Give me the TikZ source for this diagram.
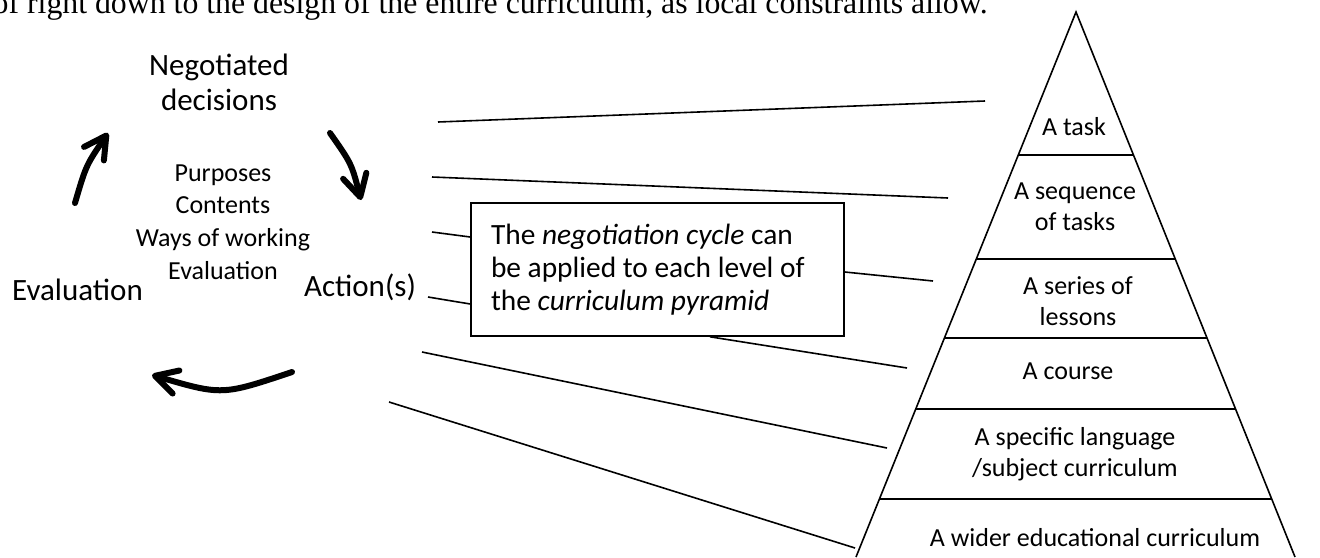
\documentclass[tikz,border=0pt]{standalone}
\usepackage{fontspec}
\setmainfont{Carlito}
\newfontfamily\leadserif{Liberation Serif}
\usetikzlibrary{arrows.meta,calc}

\tikzset{
  stage/.style={font=\fontsize{15.5}{17.5}\selectfont, align=center, inner sep=0pt},
  topic/.style={font=\fontsize{13}{16.25}\selectfont, align=center, inner sep=0pt},
  tier/.style={font=\fontsize{13}{15.5}\selectfont, align=center, inner sep=0pt},
  notebox/.style={draw, line width=0.8pt, font=\fontsize{14.7}{16.5}\selectfont, align=flush left,
    text width=166.5pt, inner xsep=10pt, inner ysep=0pt, minimum height=66.5pt},
  linkline/.style={line width=0.8pt},
  cyclearrow/.style={line width=3pt, line cap=round, -{Straight Barb[length=11pt,width=12pt,round]}},
}

\begin{document}
\begin{tikzpicture}[x=0.5pt, y=-0.5pt]
        \useasboundingbox (0,0) rectangle (1320,557);

        \node[anchor=base east, inner sep=0pt, font=\leadserif\fontsize{15.9}{18}\selectfont] (lead) at (988,13.5)
          {of right down to the design of the entire curriculum, as local constraints allow.};

        % the negotiation cycle
        \node[stage] (neg) at (219,82) {Negotiated\\decisions};
        \node[stage] (act) at (360,287.5) {Action(s)};
        \node[stage] (eval) at (77.5,290) {Evaluation};
        \node[topic] (what) at (223,222) {Purposes\\Contents\\Ways of working\\Evaluation};

        \coordinate (e2n-a) at (75,203);
        \coordinate (e2n-b) at (108,133);
        \coordinate (n2a-a) at (330,133);
        \coordinate (n2a-b) at (361,200);
        \coordinate (a2e-a) at (292,372);
        \coordinate (a2e-b) at (152,375);

        \draw[cyclearrow] (e2n-a) .. controls (86,165.4) .. (e2n-b); %
        \draw[cyclearrow] (n2a-a) .. controls (351.6,163.7) .. (n2a-b); %
        \draw[cyclearrow] (a2e-a) .. controls (222,395.5) .. (a2e-b); %

        % the curriculum pyramid
        \coordinate (apex) at (1076,12);
        \coordinate (bl) at (856,557);
        \coordinate (br) at (1295,557);
        \draw[linkline] (bl) -- (apex) -- (br);
        \foreach \t in {0.2624,0.4532,0.5982,0.7284,0.8936}
          \draw[linkline] ($(apex)!\t!(bl)$) -- ($(apex)!\t!(br)$);

        \node[tier] (t1) at (1074,127) {A task};
        \node[tier] (t2) at (1075,206.5) {A sequence\\of tasks};
        \node[tier] (t3) at (1078,301) {A series of\\lessons};
        \node[tier] (t4) at (1068,371.5) {A course};
        \node[tier] (t5) at (1075,454.5) {A specific language\\/subject curriculum};
        \node[tier] (t6) at (1095,538) {A wider educational curriculum};

        % the note and its links
        \node[notebox] (note) at (657.5,269.5)
          {The \emph{negotiation cycle} can\\be applied to each level of\\the \emph{curriculum pyramid}};

        \coordinate (k1) at (438,122);  \coordinate (k1e) at (985,101);
        \coordinate (k2) at (432,177);  \coordinate (k2e) at (948,198);
        \coordinate (k3) at (432,232);
        \coordinate (k4) at (428,297);
        \coordinate (k5e) at (933,281);
        \coordinate (k6e) at (907,368);
        \coordinate (k7) at (422,352);  \coordinate (k7e) at (887,448);
        \coordinate (k8) at (389,402);  \coordinate (k8e) at (855,548);

        \draw[linkline] (k1) -- (k1e); %
        \draw[linkline] (k2) -- (k2e); %
        \draw[linkline] (k3) -- ($(note.west)+(0,-32.5)$); %
        \draw[linkline] (k4) -- ($(note.west)+(0,34.5)$); %
        \draw[linkline] ($(note.east)+(0,2.5)$) -- (k5e); %
        \draw[linkline] ($(note.south)+(52.5,0)$) -- (k6e); %
        \draw[linkline] (k7) -- (k7e); %
        \draw[linkline] (k8) -- (k8e); %

\end{tikzpicture}
\end{document}
